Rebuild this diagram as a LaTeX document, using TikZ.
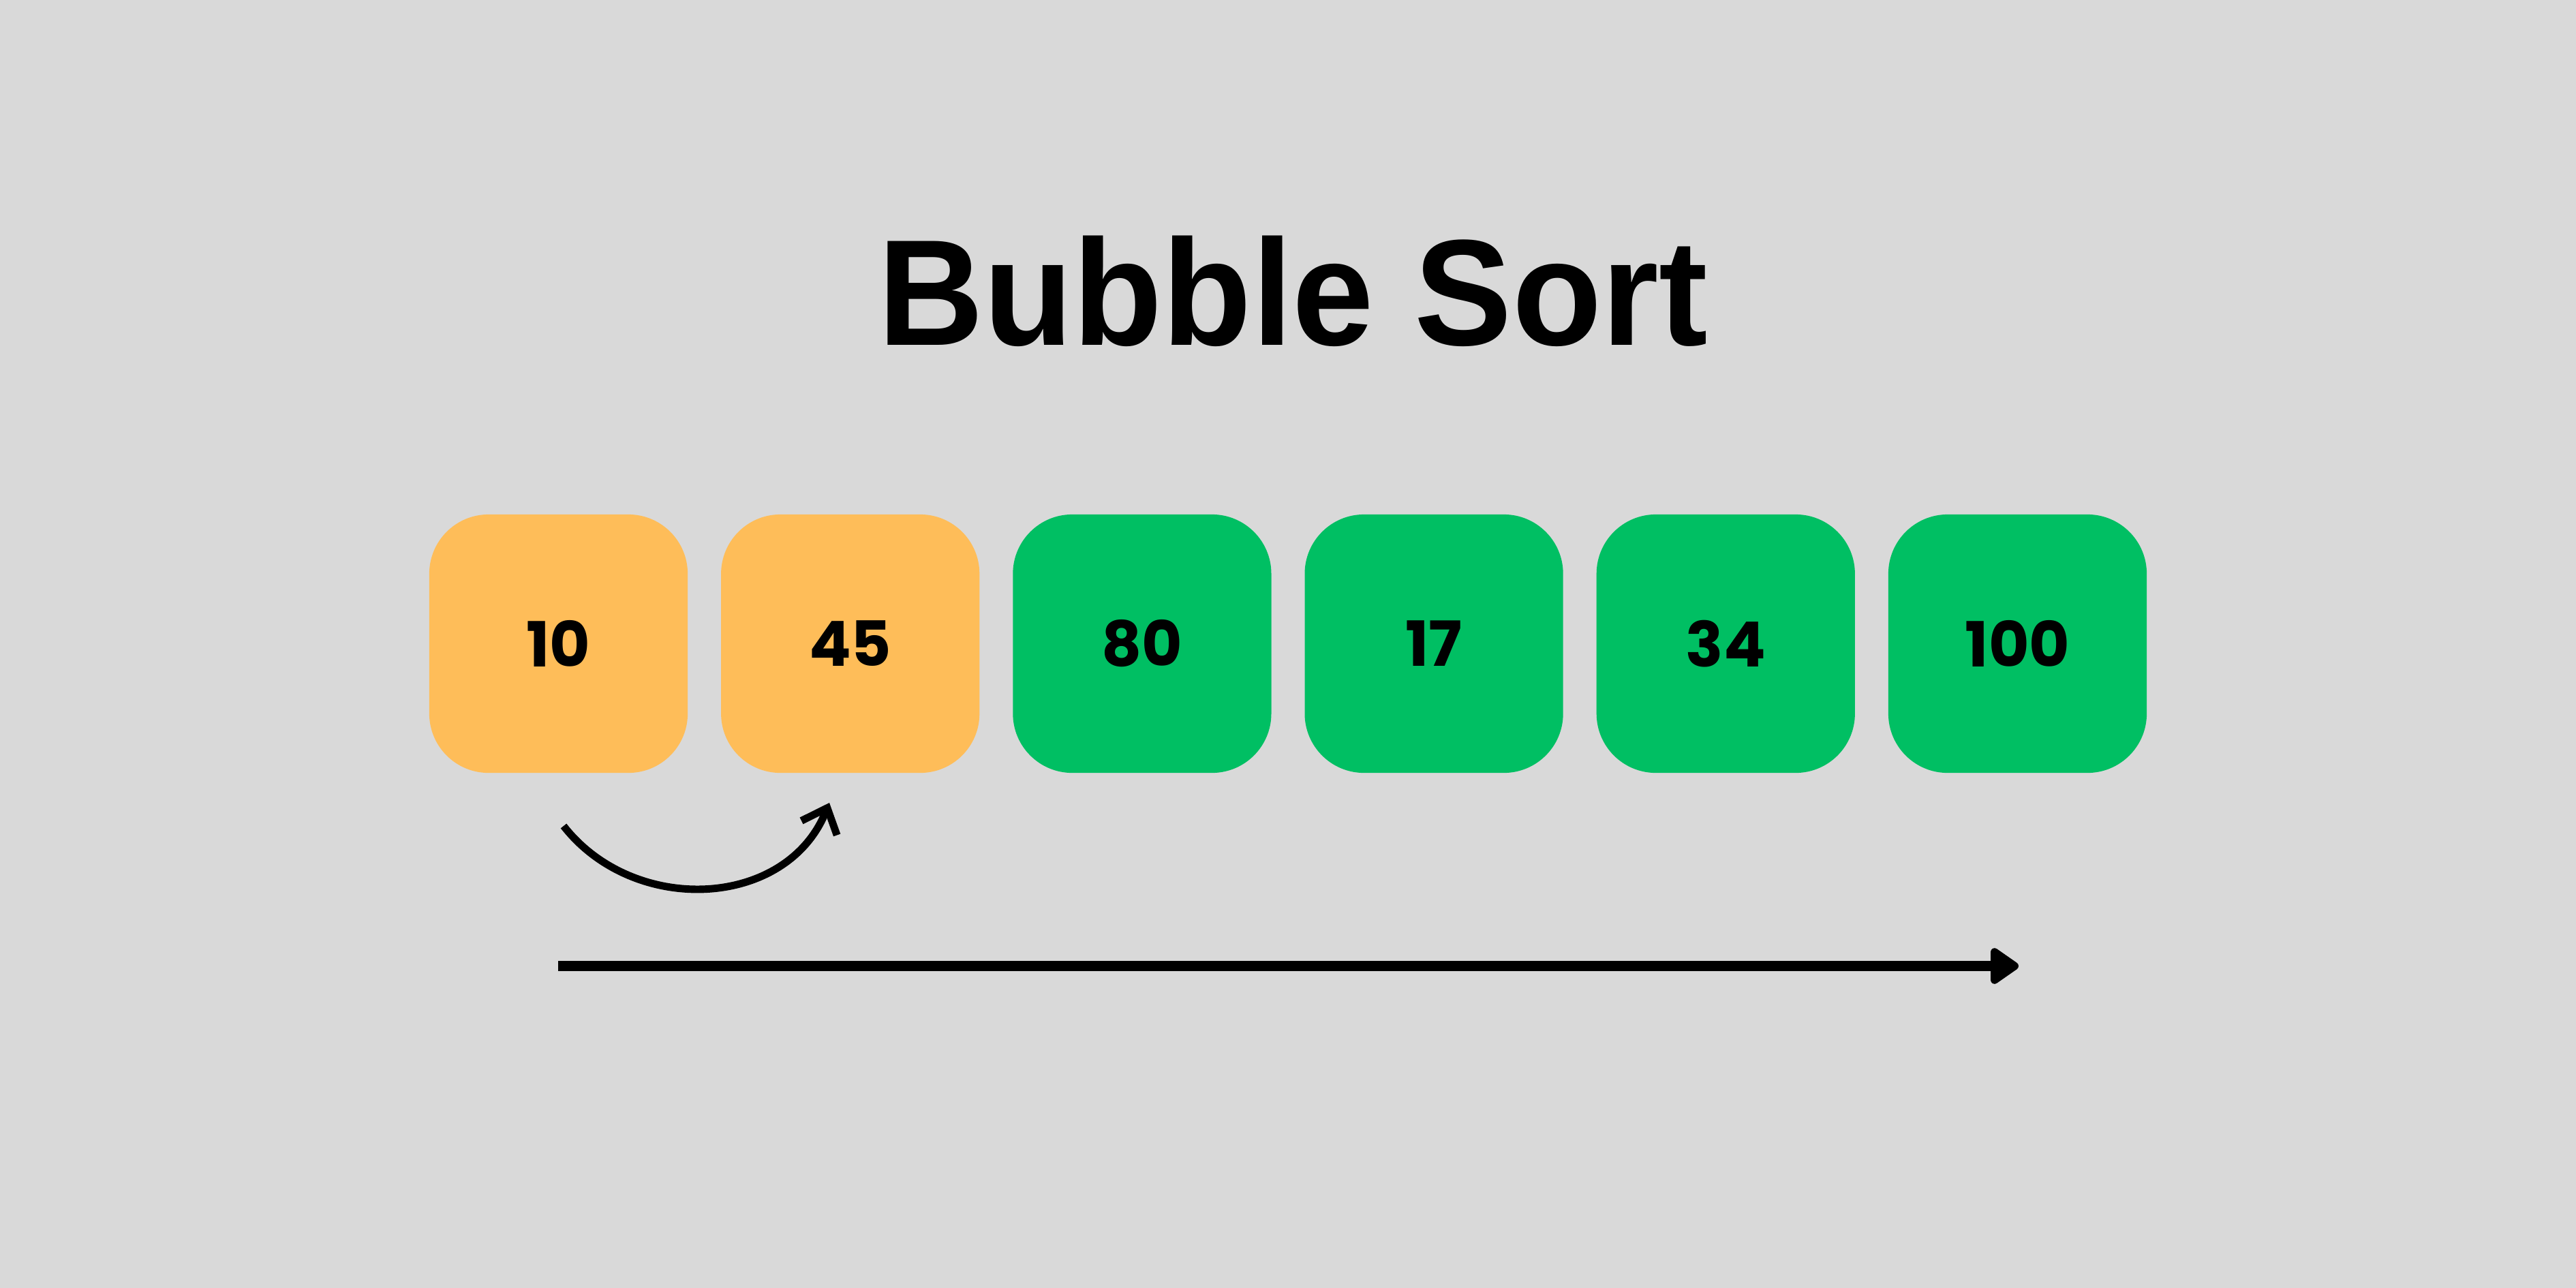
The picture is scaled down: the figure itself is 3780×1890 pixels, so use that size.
\documentclass[tikz,border=0pt]{standalone}
\usepackage{fontspec}
\setmainfont{Liberation Sans}
\newfontfamily\titlefont[FakeStretch=0.97]{Liberation Sans}
\newfontfamily\popfont{Poppins}
\usetikzlibrary{arrows.meta,calc}
\definecolor{bg}{HTML}{D9D9D9}
\definecolor{orng}{HTML}{FEBD59}
\definecolor{grn}{HTML}{00BF63}
\begin{document}
\begin{tikzpicture}[x=0.01cm,y=-0.01cm,
  cell/.style={rounded corners=0.87cm, minimum width=3.79cm, minimum height=3.79cm,
    inner sep=0pt, font=\popfont\bfseries\fontsize{26}{26}\selectfont},
  hot/.style={cell, fill=orng},
  done/.style={cell, fill=grn},
  swaparrow/.style={line width=3.1pt, -{Straight Barb[length=9pt,width=16pt]}},
  passarrow/.style={line width=4.2pt, -{Triangle[length=13pt,width=17pt,round]}}]
\fill[bg] (0,0) rectangle (3780,1890);
\useasboundingbox (0,0) rectangle (3780,1890);
\node[anchor=base, font=\titlefont\bfseries\fontsize{63}{63}\selectfont] (title) at (1897,506) {Bubble Sort};
\node[hot]  (b1) at (819.5,944.5) {10};
\node[hot]  (b2) at (1247.7,944.5) {45};
\node[done] (b3) at (1675.9,944.5) {80};
\node[done] (b4) at (2104.1,944.5) {17};
\node[done] (b5) at (2532.3,944.5) {34};
\node[done] (b6) at (2960.5,944.5) {100};
\coordinate (cs) at (827,1212);
\coordinate (ce) at (1217,1178);
\draw[swaparrow] (cs) to[out=-52,in=-112,looseness=1.1] (ce);
\coordinate (ls) at (819,1417.5);
\coordinate (le) at (2962,1417.5);
\draw[passarrow] (ls) -- (le);
\end{tikzpicture}
\end{document}
